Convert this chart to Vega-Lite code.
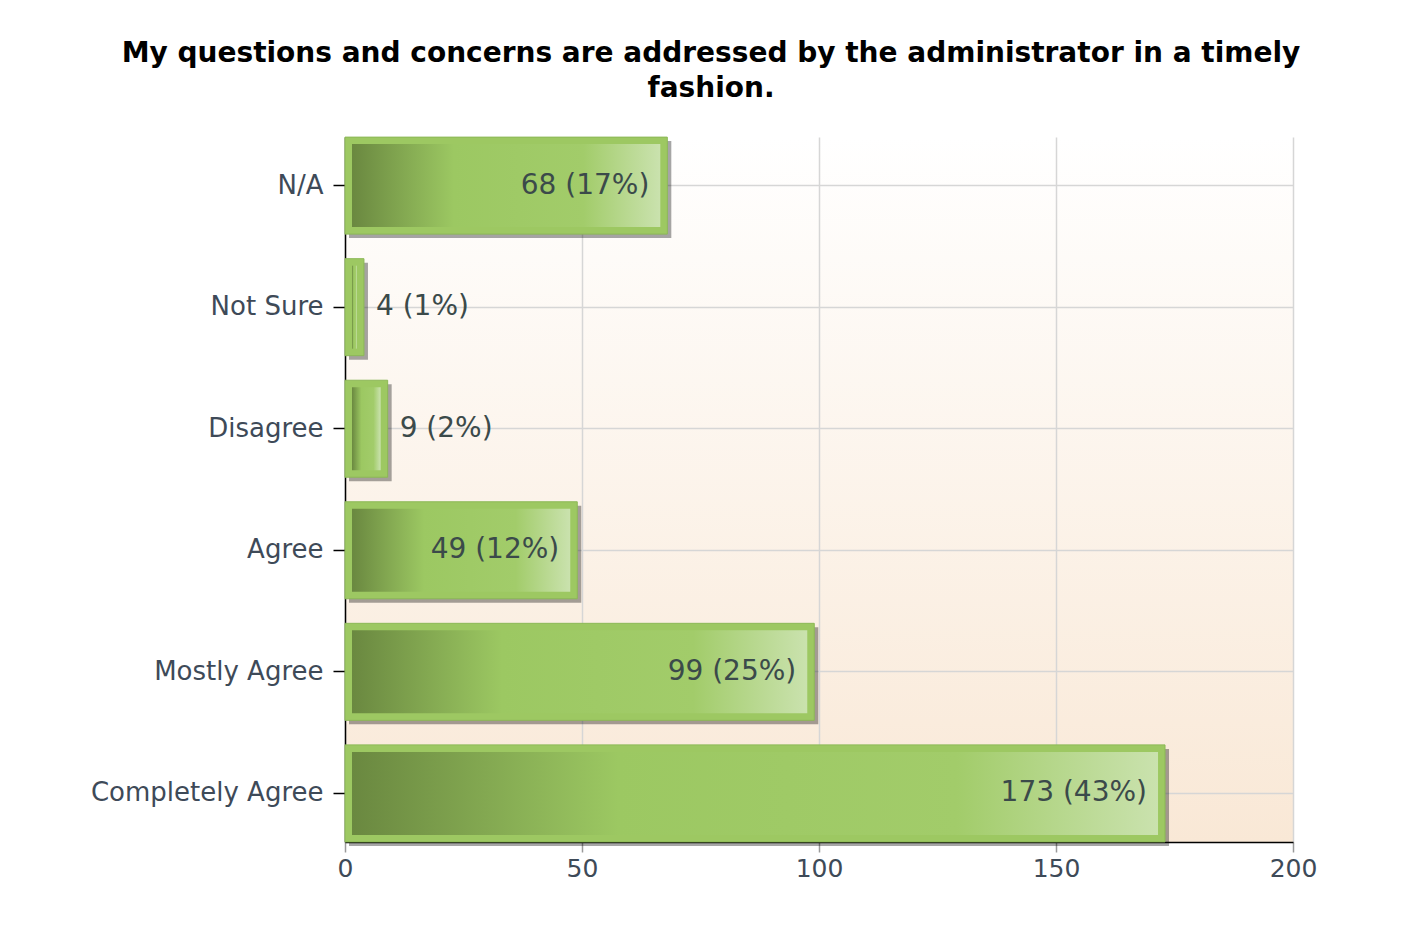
{
  "$schema": "https://vega.github.io/schema/vega-lite/v6.json",
  "width": 948,
  "height": 705,
  "autosize": {"type": "none"},
  "padding": {"left": 345, "top": 137, "right": 121, "bottom": 89},
  "background": "#ffffff",
  "title": {
    "text": ["My questions and concerns are addressed by the administrator in a timely", "fashion."],
    "font": "DejaVu Sans",
    "fontSize": 28,
    "fontWeight": "bold",
    "color": "#000000",
    "anchor": "middle",
    "dx": -108,
    "lineHeight": 35,
    "offset": 34
  },
  "data": {
    "values": [
      {"category": "N/A", "count": 68, "label": "68 (17%)"},
      {"category": "Not Sure", "count": 4, "label": "4 (1%)"},
      {"category": "Disagree", "count": 9, "label": "9 (2%)"},
      {"category": "Agree", "count": 49, "label": "49 (12%)"},
      {"category": "Mostly Agree", "count": 99, "label": "99 (25%)"},
      {"category": "Completely Agree", "count": 173, "label": "173 (43%)"}
    ]
  },
  "encoding": {
    "y": {
      "field": "category",
      "type": "nominal",
      "sort": null,
      "scale": {"paddingInner": 0.2, "paddingOuter": 0},
      "axis": {
        "title": null,
        "domainColor": "#000000",
        "domainWidth": 1.5,
        "tickColor": "#000000",
        "tickSize": 12,
        "tickWidth": 1.5,
        "labelPadding": 10,
        "labelLimit": 0,
        "labelFont": "DejaVu Sans",
        "labelFontSize": 26,
        "labelColor": "#3e4a58",
        "grid": true,
        "gridColor": "#d6d6d6",
        "gridWidth": 1.5,
        "bandPosition": 0.5
      }
    },
    "x": {
      "field": "count",
      "type": "quantitative",
      "scale": {"domain": [0, 200], "nice": false},
      "axis": {
        "title": null,
        "values": [0, 50, 100, 150, 200],
        "domainColor": "#000000",
        "domainWidth": 1.5,
        "tickColor": "#9a9a9a",
        "tickSize": 10,
        "tickWidth": 1.5,
        "labelPadding": 4,
        "labelFlush": false,
        "labelFont": "DejaVu Sans",
        "labelFontSize": 25,
        "labelColor": "#3e4a58",
        "grid": true,
        "gridColor": "#d6d6d6",
        "gridWidth": 1.5
      }
    }
  },
  "layer": [
    {
      "mark": {"type": "bar", "size": 97, "color": "#000000", "opacity": 0.35, "xOffset": 4, "yOffset": 4}
    },
    {
      "mark": {"type": "bar", "size": 97, "color": "#9dc862", "stroke": "#8cb856", "strokeWidth": 1}
    },
    {
      "mark": {
        "type": "bar",
        "size": 83,
        "xOffset": -7,
        "x2Offset": 7,
        "color": {
          "gradient": "linear",
          "x1": 0, "y1": 0, "x2": 1, "y2": 0,
          "stops": [
            {"offset": 0, "color": "#6a8840"},
            {"offset": 0.33, "color": "#9cc862"},
            {"offset": 0.75, "color": "#a2cc6a"},
            {"offset": 1, "color": "#cae2ae"}
          ]
        }
      },
      "encoding": {"x2": {"datum": 0}}
    },
    {
      "transform": [{"filter": "datum.count >= 20"}],
      "mark": {"type": "text", "align": "right", "baseline": "middle", "dx": -18, "font": "DejaVu Sans", "fontSize": 28, "color": "#3b4a4a"},
      "encoding": {"text": {"field": "label"}}
    },
    {
      "transform": [{"filter": "datum.count < 20"}],
      "mark": {"type": "text", "align": "left", "baseline": "middle", "dx": 12, "font": "DejaVu Sans", "fontSize": 28, "color": "#3b4a4a"},
      "encoding": {"text": {"field": "label"}}
    }
  ],
  "config": {
    "view": {
      "stroke": null,
      "fill": {
        "gradient": "linear",
        "x1": 0, "y1": 0, "x2": 0, "y2": 1,
        "stops": [
          {"offset": 0, "color": "#ffffff"},
          {"offset": 1, "color": "#f9e8d6"}
        ]
      }
    }
  }
}
